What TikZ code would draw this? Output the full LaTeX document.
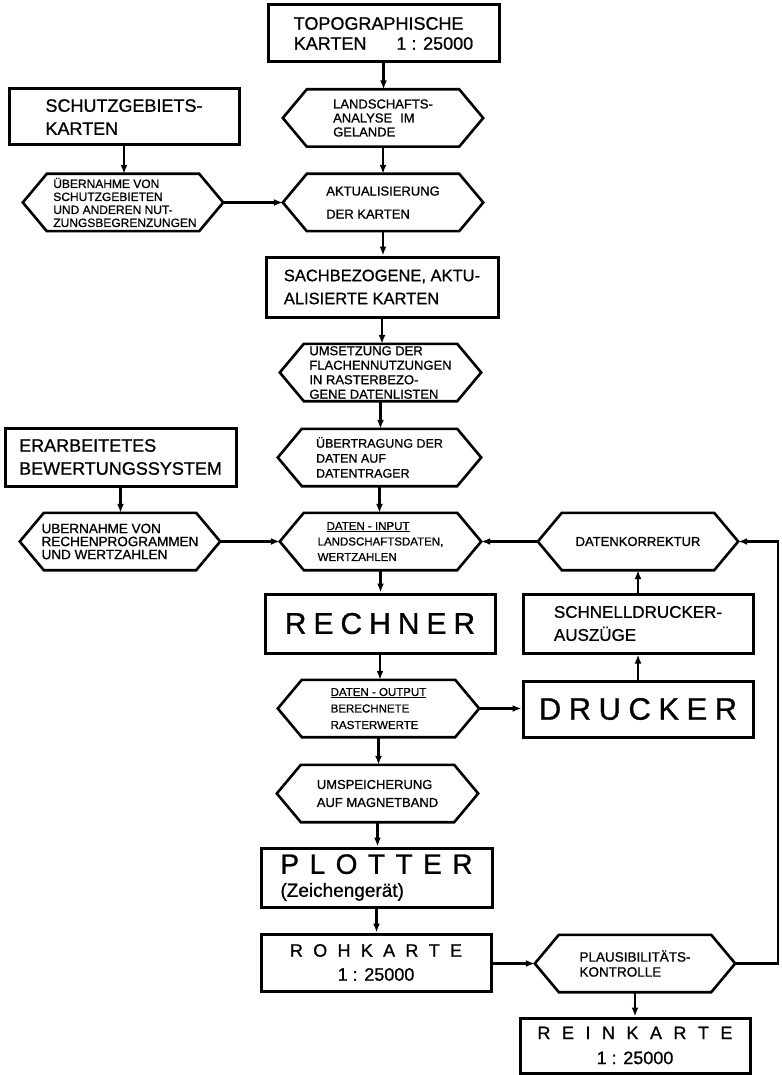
\documentclass[tikz,border=0pt]{standalone}
\usepackage{fontspec}
\setmainfont{Liberation Sans}[FakeBold=0.9]
\usetikzlibrary{arrows.meta}
\newcommand\fsz[2]{\fontsize{#1}{#2}\selectfont}
\newdimen\spgap
\makeatletter
\newcommand\spaced[2]{\spgap=#1\relax\sp@loop#2\@nil}
\def\sp@loop#1#2\@nil{#1\ifx\relax#2\relax\else\hskip\spgap\sp@loop#2\@nil\fi}
\makeatother
\tikzset{
  bx/.style={draw, line width=3pt, inner sep=0pt, align=left},
  hexs/.style={inner sep=0pt, minimum height=57pt, align=left, font=\fsz{13}{15}},
  hexline/.style={line width=2.6pt, line join=miter},
  arr/.style={line width=2.2pt, -{Latex[length=9pt,width=7pt]}},
}
\newcommand{\hexn}[5][]{%
  \node[hexs,minimum width=#4,#1] (#2) at (#3) {#5};
  \draw[hexline] (#2.west) -- ([xshift=24pt]#2.north west) -- ([xshift=-24pt]#2.north east)
     -- (#2.east) -- ([xshift=-24pt]#2.south east) -- ([xshift=24pt]#2.south west) -- cycle;}
\begin{document}
\begin{tikzpicture}[x=1pt,y=-1pt]
\useasboundingbox (0,0) rectangle (781,1075);

% boxes
\node[bx, minimum width=231pt, minimum height=57pt, font=\fsz{18}{20}] (topo) at (383.5,33.5)
  {TOPOGRAPHISCHE\\KARTEN\hspace{30pt}1 : 25000};
\node[bx, minimum width=230pt, minimum height=56pt, font=\fsz{18}{23}] (schutz) at (124,117)
  {SCHUTZGEBIETS-\\KARTEN};
\node[bx, minimum width=232pt, minimum height=60pt, font=\fsz{16.5}{23}] (sach) at (382,287)
  {SACHBEZOGENE, AKTU-\\ALISIERTE KARTEN};
\node[bx, minimum width=231pt, minimum height=58pt, font=\fsz{18}{23}] (erarb) at (120.5,457)
  {ERARBEITETES\\BEWERTUNGSSYSTEM};
\node[bx, minimum width=230pt, minimum height=59pt, font=\fsz{30}{34}, align=center] (rechner) at (380,623.5)
  {\spaced{7pt}{RECHNER}};
\node[bx, minimum width=230pt, minimum height=59pt, font=\fsz{17}{23}] (schnell) at (638,623.5)
  {SCHNELLDRUCKER-\\AUSZÜGE};
\node[bx, minimum width=230pt, minimum height=56pt, font=\fsz{31}{34}, align=center] (drucker) at (638,709)
  {\spaced{7.5pt}{DRUCKER}};
\node[bx, minimum width=231pt, minimum height=59pt, font=\fsz{19}{23}] (plotter) at (376.5,877.5)
  {{\fsz{28}{30}\spaced{10.5pt}{PLOTTER}}\\(Zeichengerät)};
\node[bx, minimum width=230pt, minimum height=57pt, font=\fsz{18}{24}, align=center] (roh) at (376,962.5)
  {\spaced{10.3pt}{ROHKARTE}\\1 : 25000};
\node[bx, minimum width=230pt, minimum height=55pt, font=\fsz{18}{25}, align=center] (rein) at (635,1045.5)
  {\spaced{11.5pt}{REINKARTE}\\1 : 25000};

% hexagons
\hexn[font=\fsz{13}{14}]{lan}{383,118}{200}{LANDSCHAFTS-\\ANALYSE\hspace{8pt}IM\\GELANDE}
\hexn[font=\fsz{12}{13}]{ueba}{123,202.5}{200}{\hspace*{4pt}ÜBERNAHME VON\\\hspace*{4pt}SCHUTZGEBIETEN\\\hspace*{4pt}UND ANDEREN NUT-\\\hspace*{4pt}ZUNGSBEGRENZUNGEN}
\hexn[font=\fsz{13}{23}]{akt}{383,202.5}{200}{AKTUALISIERUNG\\DER KARTEN}
\hexn[font=\fsz{13}{14.5}]{ums}{380.5,372.5}{201}{UMSETZUNG DER\\FLACHENNUTZUNGEN\\IN RASTERBEZO-\\GENE DATENLISTEN}
\hexn[font=\fsz{12.5}{15}]{uebtr}{379.5,457.5}{203}{ÜBERTRAGUNG DER\\DATEN AUF\\DATENTRAGER}
\hexn[font=\fsz{13.5}{13}]{uebb}{120,541.5}{200}{UBERNAHME VON\\RECHENPROGRAMMEN\\UND WERTZAHLEN}
\hexn[font=\fsz{11.5}{15.5}]{din}{380.5,541.5}{201}{\hspace*{9pt}\underline{DATEN - INPUT}\\LANDSCHAFTSDATEN,\\WERTZAHLEN}
\hexn[font=\fsz{13}{15}]{dkor}{638,541.5}{200}{DATENKORREKTUR}
\hexn[font=\fsz{11.5}{16.5}]{dout}{378.5,708.5}{201}{\underline{DATEN - OUTPUT}\\BERECHNETE\\RASTERWERTE}
\hexn[font=\fsz{13}{18}]{umsp}{377.5,793.5}{201}{UMSPEICHERUNG\\AUF MAGNETBAND}
\hexn[font=\fsz{13.5}{15}]{plaus}{635,963.5}{200}{PLAUSIBILITÄTS-\\KONTROLLE}

% connectors
\draw[arr] (topo.south) -- (topo.south |- lan.north);
\draw[arr] (lan.south) -- (lan.south |- akt.north);
\draw[arr] (schutz.south) -- (schutz.south |- ueba.north);
\draw[arr] (ueba.east) -- (akt.west);
\draw[arr] (akt.south) -- (akt.south |- sach.north);
\draw[arr] (sach.south) -- (sach.south |- ums.north);
\draw[arr] (ums.south) -- (ums.south |- uebtr.north);
\draw[arr] (uebtr.south) -- (uebtr.south |- din.north);
\draw[arr] (erarb.south) -- (erarb.south |- uebb.north);
\draw[arr] (uebb.east) -- (din.west);
\draw[arr] (dkor.west) -- (din.east);
\draw[arr] (din.south) -- (din.south |- rechner.north);
\draw[arr] (rechner.south) -- (rechner.south |- dout.north);
\draw[arr] (dout.east) -- (dout.east -| drucker.west);
\draw[arr] (drucker.north) -- (schnell.south);
\draw[arr] (schnell.north) -- (schnell.north |- dkor.south);
\draw[arr] (dout.south) -- (dout.south |- umsp.north);
\draw[arr] (umsp.south) -- (umsp.south |- plotter.north);
\draw[arr] (plotter.south) -- (plotter.south |- roh.north);
\draw[arr] (roh.east |- plaus.west) -- (plaus.west);
\draw[arr] (plaus.south) -- (plaus.south |- rein.north);
\coordinate (rt) at (778,963.5);
\draw[arr] (plaus.east) -- (rt) |- (dkor.east);
\end{tikzpicture}
\end{document}
